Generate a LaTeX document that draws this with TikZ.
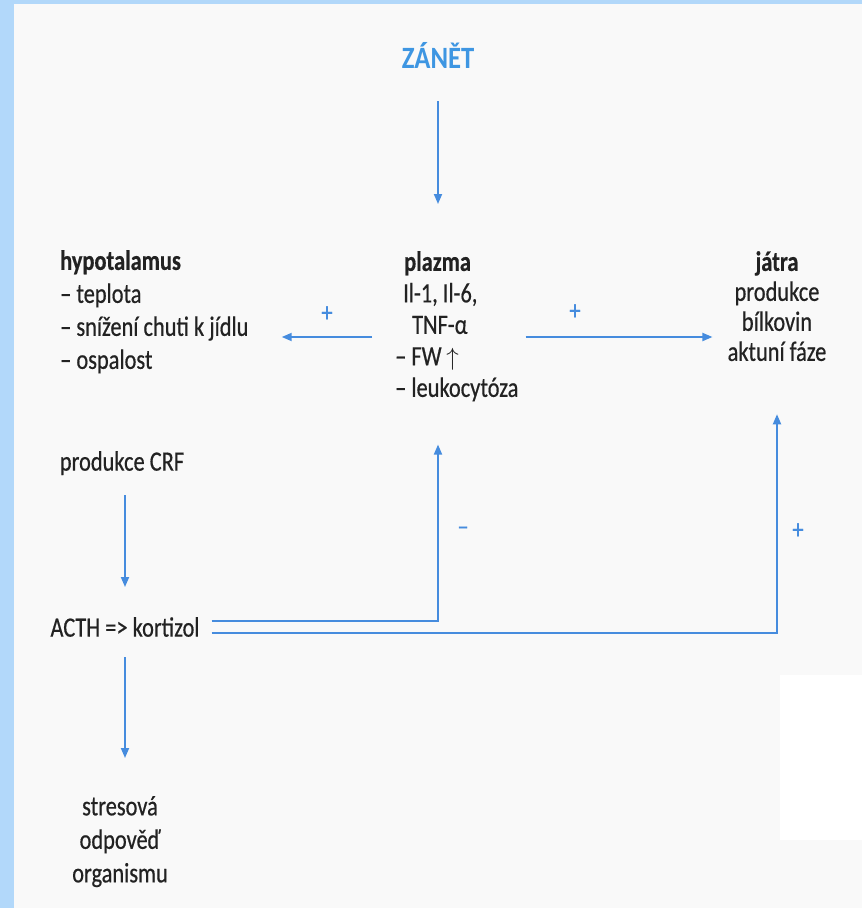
\documentclass[tikz,border=0pt]{standalone}
\usepackage{fontspec}
\setmainfont[FakeStretch=0.8, FakeBold=0.5]{Carlito}
\newfontfamily\headfont[FakeStretch=0.86]{Carlito}
\usepackage{tikz}
\usetikzlibrary{arrows.meta,positioning,calc}
\definecolor{Pblue}{RGB}{70,140,222}
\definecolor{Tblue}{RGB}{62,150,226}
\definecolor{Ink}{RGB}{34,34,34}
\definecolor{Frame}{RGB}{178,216,250}
\definecolor{Paper}{RGB}{249,249,249}
\tikzset{
  Tblk/.style={align=left, inner sep=0pt, text=Ink,
               font=\fontsize{28}{33}\selectfont},
  Cblk/.style={align=center, inner sep=0pt, text=Ink,
               font=\fontsize{28}{30}\selectfont},
  Barr/.style={draw=Pblue, line width=1.8pt,
               -{Triangle[length=10pt,width=8pt]}},
  Bsgn/.style={text=Pblue, inner sep=0pt, font=\fontsize{28}{28}\selectfont}
}

\begin{document}
\begin{tikzpicture}[x=1pt, y=-1pt]
  % page
  \fill[Frame] (0,0) rectangle (862,908);
  \fill[Paper] (14,4) rectangle (862,908);
  \fill[white] (780,675) rectangle (862,840);
  \useasboundingbox (0,0) rectangle (862,908);

  \node[inner sep=0pt, text=Tblue, font=\headfont\fontsize{31}{31}\selectfont\bfseries]
    (zanet) at (438,55) {ZÁNĚT};

  \node[Tblk, anchor=north west] (hypo) at (60,250)
    {\textbf{hypotalamus}\\– teplota\\– snížení chuti k jídlu\\– ospalost};
  \node[Tblk, anchor=north west, font=\fontsize{28}{31.5}\selectfont] (plazma) at (395,251)
    {\hspace*{9pt}\textbf{plazma}\\\hspace*{8pt}Il-1, Il-6,\\\hspace*{17pt}TNF-α\\– FW\,$\uparrow$\\– leukocytóza};
  \node[Cblk, anchor=north] (jatra) at (777,251)
    {\textbf{játra}\\produkce\\bílkovin\\aktuní fáze};

  \node[Tblk, anchor=north] (crf) at (122,451) {produkce CRF};
  \node[Tblk, anchor=north] (acth) at (125,617) {ACTH => kortizol};
  \node[Cblk, anchor=north, font=\fontsize{28}{33.5}\selectfont] (stres) at (120,796)
    {stresová\\odpověď\\organismu};

  \coordinate (mid) at (0,337);

  \draw[Barr, shorten <=33pt, shorten >=47pt] (zanet.south) -- (zanet |- plazma.north);
  \draw[Barr, shorten <=23pt, shorten >=33pt] (plazma.west |- mid) -- (hypo.east |- mid);
  \draw[Barr, shorten <=7pt, shorten >=15pt] (plazma.east |- mid) -- (jatra.west |- mid);
  \draw[Barr, shorten <=20pt, shorten >=30pt] (acth.north |- crf.south) -- (acth.north);
  \draw[Barr, shorten <=20pt, shorten >=38pt] (acth.south) -- (acth.south |- stres.north);
  \draw[Barr, shorten <=12pt, shorten >=43pt] ([yshift=6pt]acth.east) -| (zanet |- plazma.south);
  \draw[Barr, shorten <=12pt, shorten >=53pt] ([yshift=-6pt]acth.east) -| (jatra.south);

  \node[Bsgn] (p1) at (327,314) {+};
  \node[Bsgn] (p2) at (575,312) {+};
  \node[Bsgn] (m1) at (463,531) {–};
  \node[Bsgn] (p3) at (798,531) {+};
\end{tikzpicture}
\end{document}
